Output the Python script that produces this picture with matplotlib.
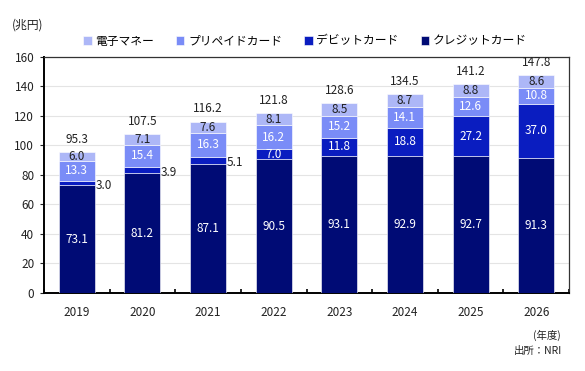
import matplotlib
matplotlib.use('Agg')
import matplotlib.pyplot as plt
import numpy as np

plt.rcParams['font.family'] = ['Noto Sans CJK JP', 'DejaVu Sans']

# Données (兆円)
annees = ["2019", "2020", "2021", "2022", "2023", "2024", "2025", "2026"]
credit = [73.1, 81.2, 87.1, 90.5, 93.1, 92.9, 92.7, 91.3]
debit = [3.0, 3.9, 5.1, 7.0, 11.8, 18.8, 27.2, 37.0]
prepaid = [13.3, 15.4, 16.3, 16.2, 15.2, 14.1, 12.6, 10.8]
emoney = [6.0, 7.1, 7.6, 8.1, 8.5, 8.7, 8.8, 8.6]
totals = [95.3, 107.5, 116.2, 121.8, 128.6, 134.5, 141.2, 147.8]

c_credit = "#000B75"
c_debit = "#0A1DC0"
c_prepaid = "#7A8CF7"
c_emoney = "#ADB7F7"

fig = plt.figure(figsize=(5.85, 3.71), dpi=100)
ax = fig.add_axes([44 / 585, 1 - 293 / 371, 525 / 585, (293 - 56.7) / 371])

x = np.arange(len(annees))
w = 0.55
b0 = np.zeros(len(x))
b1 = np.array(credit)
b2 = b1 + np.array(debit)
b3 = b2 + np.array(prepaid)

ax.bar(x, credit, w, bottom=b0, color=c_credit, edgecolor="white", linewidth=0.4, label="クレジットカード", zorder=3)
ax.bar(x, debit, w, bottom=b1, color=c_debit, edgecolor="white", linewidth=0.4, label="デビットカード", zorder=3)
ax.bar(x, prepaid, w, bottom=b2, color=c_prepaid, edgecolor="white", linewidth=0.4, label="プリペイドカード", zorder=3)
ax.bar(x, emoney, w, bottom=b3, color=c_emoney, edgecolor="white", linewidth=0.4, label="電子マネー", zorder=3)

fs = 8.5
for i in range(len(x)):
    ax.text(x[i], credit[i] / 2, f"{credit[i]:.1f}", ha="center", va="center", color="white", fontsize=fs, zorder=4)
    if debit[i] < 6:
        ax.text(x[i] + w / 2 + 0.01, b1[i] + debit[i] / 2 - 1.5, f"{debit[i]:.1f}", ha="left", va="center", color="#222222", fontsize=fs, zorder=4)
    else:
        ax.text(x[i], b1[i] + debit[i] / 2, f"{debit[i]:.1f}", ha="center", va="center", color="white", fontsize=fs, zorder=4)
    ax.text(x[i], b2[i] + prepaid[i] / 2, f"{prepaid[i]:.1f}", ha="center", va="center", color="white", fontsize=fs, zorder=4)
    ax.text(x[i], b3[i] + emoney[i] / 2, f"{emoney[i]:.1f}", ha="center", va="center", color="#222222", fontsize=fs, zorder=4)
    ax.text(x[i], totals[i] + 8.5, f"{totals[i]:.1f}", ha="center", va="center", color="#222222", fontsize=fs, zorder=4)

ax.set_xlim(-0.5, len(x) - 0.5)
ax.set_ylim(0, 160)
ax.set_yticks(range(0, 161, 20))
ax.set_xticks(x)
ax.set_xticklabels(annees)
ax.set_xticks(np.arange(-0.5, len(x), 1), minor=True)
ax.tick_params(axis="x", which="major", length=0, labelsize=fs, pad=9, colors="#222222")
ax.tick_params(axis="x", which="minor", length=3, width=1.2, direction="in", color="black")
ax.tick_params(axis="y", length=3, labelsize=fs, colors="#222222", pad=4)
ax.grid(axis="y", color="#E4E4E4", linewidth=0.8, zorder=0)

for s in ["left", "bottom"]:
    ax.spines[s].set_linewidth(1.4)
    ax.spines[s].set_color("black")
for s in ["top", "right"]:
    ax.spines[s].set_linewidth(0.9)
    ax.spines[s].set_color("#333333")

handles, labels = ax.get_legend_handles_labels()
fig.legend(handles[::-1], labels[::-1], loc="center", bbox_to_anchor=(305 / 585, 1 - 41 / 371),
           ncol=4, frameon=False, fontsize=fs, handlelength=0.7, handleheight=0.7,
           handletextpad=0.3, columnspacing=1.9)

fig.text(12 / 585, 1 - 25 / 371, "(兆円)", fontsize=fs, ha="left", va="center", color="#222222")
fig.text(547 / 585, 1 - 335 / 371, "(年度)", fontsize=7.5, ha="center", va="center", color="#222222")
fig.text(538 / 585, 1 - 351 / 371, "出所：NRI", fontsize=7.5, ha="center", va="center", color="#222222")

fig.savefig("out.png", dpi=100)
